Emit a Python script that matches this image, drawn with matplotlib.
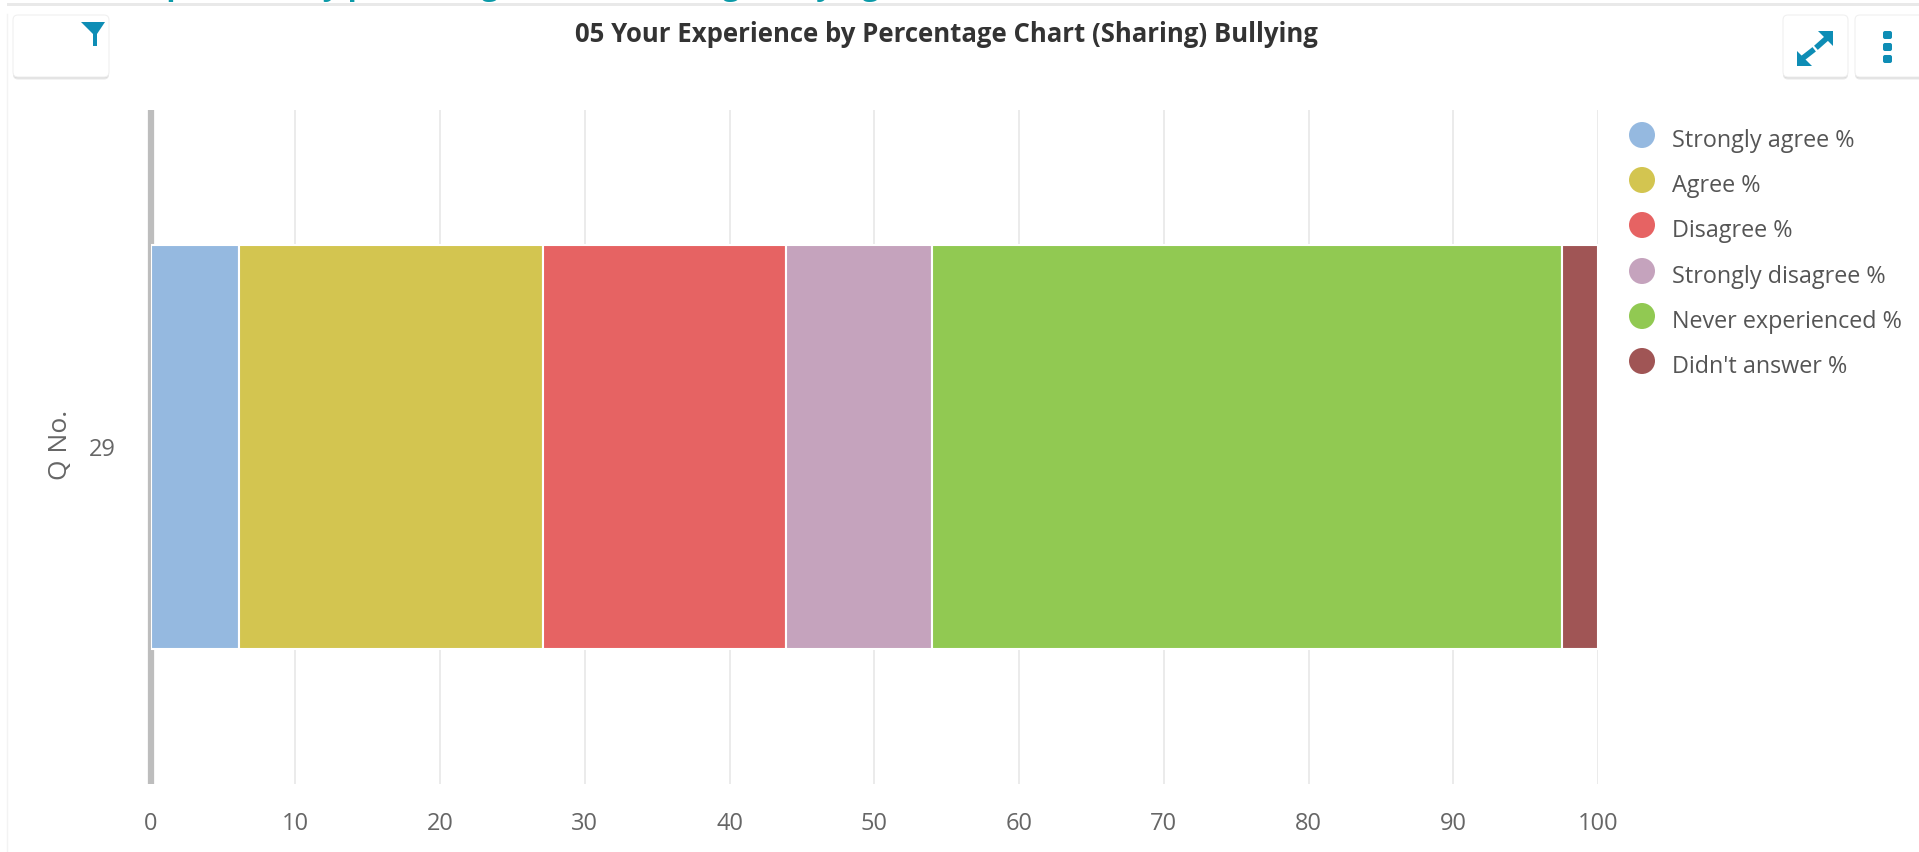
import matplotlib
matplotlib.use("Agg")
import matplotlib.pyplot as plt
from matplotlib.patches import FancyBboxPatch, Polygon, Circle, Rectangle
from matplotlib.lines import Line2D

plt.rcParams['font.family'] = ['Open Sans', 'DejaVu Sans']

# -------------------------
# Data
# -------------------------
categories = ["29"]
series_names = ["Strongly agree %", "Agree %", "Disagree %",
                "Strongly disagree %", "Never experienced %", "Didn't answer %"]
series_values = [6.1, 21, 16.8, 10.1, 43.5, 2.5]
series_colors = ["#95b9e0", "#d3c550", "#e66363", "#c5a3bd", "#91c952", "#a05555"]
x_ticks = [0, 10, 20, 30, 40, 50, 60, 70, 80, 90, 100]

W, H = 1919, 852
TEAL = "#0e8db5"

fig = plt.figure(figsize=(W / 100, H / 100), dpi=100, facecolor="white")

# pixel overlay for the page furniture round the chart
bg = fig.add_axes([0, 0, 1, 1], zorder=0)
bg.set_xlim(0, W)
bg.set_ylim(H, 0)
bg.axis("off")

# page heading, only its descenders show above the grey rule
bg.text(13, -13, "05 Your Experience by percentage Chart (Sharing) Bullying",
        fontsize=21.6, fontweight="bold", color="#0b9aa8", va="center", ha="left",
        clip_on=True)
bg.add_patch(Rectangle((7, 3), W, 3, fc="#e9e9e9", ec="none", zorder=3))
bg.add_line(Line2D([7, 7], [14, H], color="#f3f3f3", lw=1))


def button(x0, x1):
    for off, col in [(2.5, "#e8e8e8"), (1.2, "#d6d6d6")]:
        bg.add_patch(FancyBboxPatch((x0 + 4, 19 + off), x1 - x0 - 8, 54, fc=col, ec="none",
                                    boxstyle="round,pad=4,rounding_size=5"))
    bg.add_patch(FancyBboxPatch((x0 + 4, 19), x1 - x0 - 8, 54, fc="white", ec="#f0f0f0", lw=0.8,
                                boxstyle="round,pad=4,rounding_size=5"))


button(13, 109)
button(1783, 1848)
button(1855, 1925)

# filter icon
bg.add_patch(Polygon([(81, 22), (105, 22), (97, 34), (97, 46), (93, 46), (93, 34)], fc=TEAL, ec="none"))

# expand icon, two arrows with a gap between them
bg.add_line(Line2D([1803, 1812], [58, 51], color=TEAL, lw=4))
bg.add_line(Line2D([1818, 1827], [46, 38], color=TEAL, lw=4))
bg.add_patch(Polygon([(1797, 66), (1797, 51), (1812, 66)], fc=TEAL, ec="none"))
bg.add_patch(Polygon([(1833, 31), (1833, 46), (1818, 31)], fc=TEAL, ec="none"))

# three dots
for y in [35, 47, 59]:
    bg.add_patch(FancyBboxPatch((1884, y - 3), 7, 6, fc=TEAL, ec="none",
                                boxstyle="round,pad=1,rounding_size=2"))

# -------------------------
# Chart
# -------------------------
ax = fig.add_axes([150.5 / W, 1 - 784 / H, (1598 - 150.5) / W, (784 - 110) / H], zorder=1)
ax.patch.set_alpha(0)

left = 0
for name, val, col in zip(series_names, series_values, series_colors):
    ax.barh(categories, [val], left=left, height=0.6, color=col,
            edgecolor="white", linewidth=1.5, label=name, zorder=3)
    left += val

ax.set_xlim(0, 100)
ax.set_ylim(-0.5, 0.5)
ax.set_xticks(x_ticks)
ax.tick_params(axis="x", length=0, pad=20, labelsize=17, labelcolor="#666666")
ax.tick_params(axis="y", length=0, pad=25, labelsize=17, labelcolor="#666666")
ax.grid(axis="x", color="#e8e8e8", lw=1.2, zorder=0)
ax.set_axisbelow(True)

for s in ["top", "right", "bottom"]:
    ax.spines[s].set_visible(False)
ax.spines["left"].set_color("#bdbdbd")
ax.spines["left"].set_linewidth(4.5)
ax.spines["left"].set_capstyle("butt")
ax.spines["left"].set_zorder(2)

fig.text(60 / W, 1 - 445 / H, "Q No.", rotation=90, fontsize=19, color="#666666",
         ha="center", va="center")

fig.text(946 / W, 1 - 35 / H, "05 Your Experience by Percentage Chart (Sharing) Bullying",
         fontsize=18.5, fontweight="bold", color="#333333", ha="center", va="center")

# -------------------------
# Legend
# -------------------------
legend_y = [135, 180, 225, 271, 316, 361]
for name, col, y in zip(series_names, series_colors, legend_y):
    bg.add_patch(Circle((1642, y), 13, fc=col, ec="none"))
    bg.text(1672, y + 6, name, fontsize=16.8, color="#555555", va="center", ha="left")

fig.savefig("out.png", dpi=100)
